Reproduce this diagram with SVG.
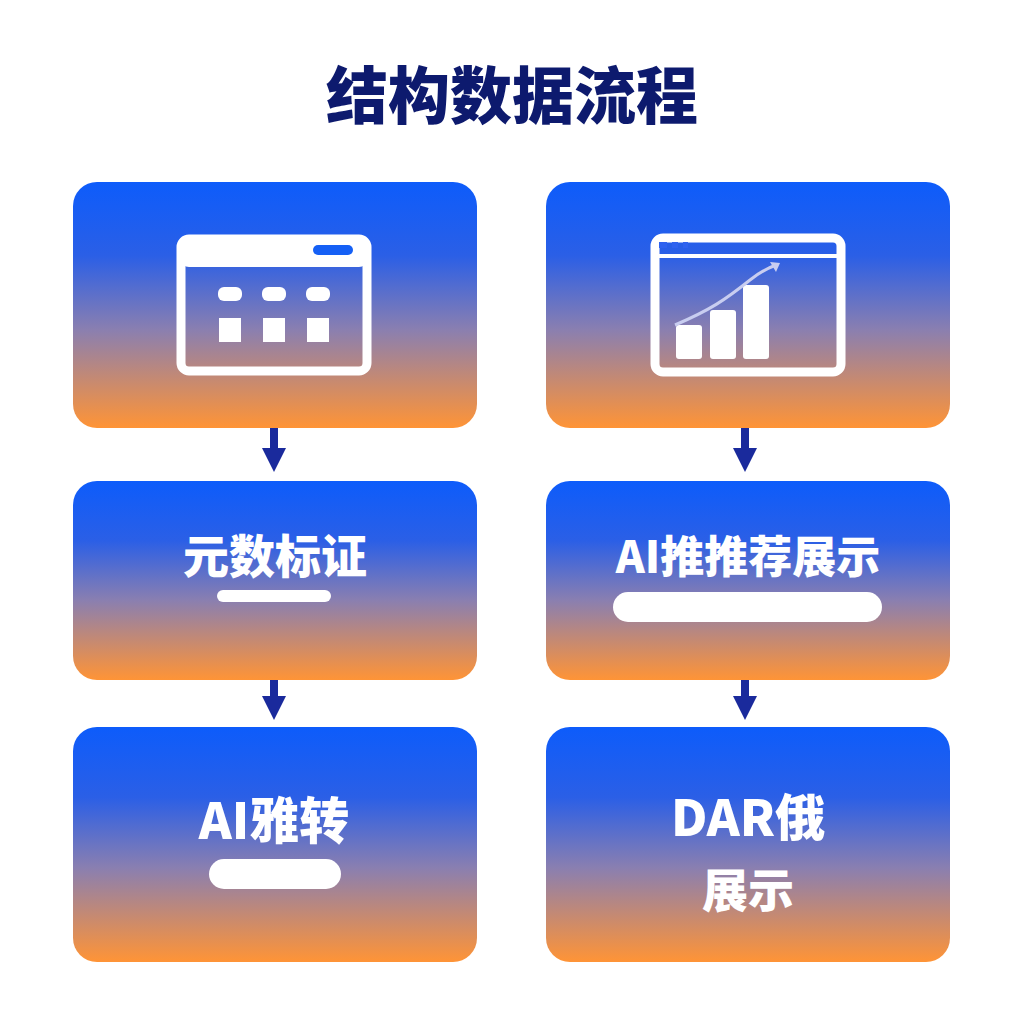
<svg xmlns="http://www.w3.org/2000/svg" width="1024" height="1024" viewBox="0 0 1024 1024">
<defs>
<linearGradient id="g" x1="0" y1="0" x2="0" y2="1">
<stop offset="0" stop-color="#0d5cfb"/><stop offset="0.3" stop-color="#2b5fe6"/><stop offset="0.6" stop-color="#8a7fb0"/><stop offset="1" stop-color="#ff9436"/>
</linearGradient>
<marker id="ah" viewBox="0 0 10 10" refX="5" refY="5" markerWidth="4.6" markerHeight="3" orient="auto" markerUnits="strokeWidth"><path d="M0,0 L10,5 L0,10 z" fill="#1a2a9c"/></marker>
</defs>
<style>
.box{fill:url(#g)}
.t{font-family:"Noto Sans CJK SC","Noto Sans",sans-serif;font-weight:900;fill:#fff;text-anchor:middle}
.w{fill:#fff}
.ol{fill:none;stroke:#fff;stroke-width:9}
.c{stroke:#1a2a9c;stroke-width:8;fill:none;marker-end:url(#ah)}
</style>
<rect width="1024" height="1024" fill="#fff"/>
<text x="512" y="119" font-family="'Noto Sans CJK SC',sans-serif" font-weight="900" font-size="62" fill="#0d1a6e" text-anchor="middle">结构数据流程</text>
<g id="n1"><rect class="box" x="73" y="182" width="404" height="246" rx="24"/>
<rect class="ol" x="181" y="239" width="186" height="132" rx="8"/><rect class="w" x="181" y="239" width="186" height="28" rx="8"/>
<rect x="313" y="245" width="40" height="10" rx="5" fill="#1560f5"/>
<rect class="w" x="218" y="287" width="24" height="14" rx="6"/><rect class="w" x="262" y="287" width="24" height="14" rx="6"/><rect class="w" x="306" y="287" width="24" height="14" rx="6"/>
<rect class="w" x="219" y="318" width="22" height="24"/><rect class="w" x="263" y="318" width="22" height="24"/><rect class="w" x="307" y="318" width="22" height="24"/></g>
<g id="n2"><rect class="box" x="546" y="182" width="404" height="246" rx="24"/>
<rect class="ol" x="655" y="238" width="186" height="134" rx="8"/><line x1="655" y1="256" x2="841" y2="256" stroke="#fff" stroke-width="4"/>
<rect x="659" y="242" width="8" height="6" fill="#2e62ef"/><rect x="672" y="242" width="6" height="6" fill="#2e62ef"/><rect x="683" y="242" width="5" height="6" fill="#2e62ef"/>
<rect class="w" x="676" y="325" width="26" height="34" rx="3"/><rect class="w" x="710" y="310" width="26" height="49" rx="3"/><rect class="w" x="743" y="285" width="26" height="74" rx="3"/>
<path d="M675,325 C710,310 725,300 750,280 C760,272 768,268 776,265" stroke="#c8cdf0" stroke-width="3" fill="none"/><path d="M770,262 L780,263 L776,272 z" fill="#c8cdf0"/></g>
<g id="n3"><rect class="box" x="73" y="481" width="404" height="199" rx="24"/><text class="t" x="275" y="573" font-size="46">元数标证</text><rect class="w" x="217" y="590" width="114" height="12" rx="6"/></g>
<g id="n4"><rect class="box" x="546" y="481" width="404" height="199" rx="24"/><text class="t" x="748" y="573" font-size="44">AI推推荐展示</text><rect class="w" x="613" y="592" width="269" height="30" rx="15"/></g>
<g id="n5"><rect class="box" x="73" y="727" width="404" height="235" rx="24"/><text class="t" x="274" y="839" font-size="50">AI雅转</text><rect class="w" x="209" y="859" width="132" height="30" rx="15"/></g>
<g id="n6"><rect class="box" x="546" y="727" width="404" height="235" rx="24"/><text class="t" x="748" y="836" font-size="50">DAR俄</text><text class="t" x="748" y="907" font-size="46">展示</text></g>
<g id="connectors">
<line class="c" x1="274" y1="428" x2="274" y2="460"/><line class="c" x1="745" y1="428" x2="745" y2="460"/>
<line class="c" x1="274" y1="680" x2="274" y2="708"/><line class="c" x1="745" y1="680" x2="745" y2="708"/>
</g>
</svg>
